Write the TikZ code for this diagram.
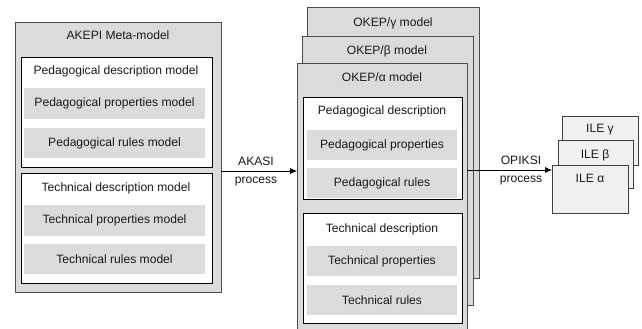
\documentclass[tikz,border=0pt]{standalone}
\usepackage{fontspec}
\setmainfont{Liberation Sans}
\usetikzlibrary{arrows.meta}
\begin{document}
\begin{tikzpicture}[x=1pt,y=-1pt,
  font=\fontsize{12.1}{14}\selectfont,
  every node/.style={text=black!90},
  box/.style={anchor=north west, inner sep=0pt, outer sep=0pt},
  outerbox/.style={box, draw=black!70, fill=gray!28, line width=0.9pt},
  innerbox/.style={box, draw=black, fill=white, line width=0.8pt},
  itembox/.style={box, draw=none, fill=gray!28},
  ilebox/.style={box, draw=black!75, fill=gray!12, line width=0.9pt},
  conn/.style={-{Latex[length=7pt,width=6pt]}, line width=0.7pt, draw=black}]
\useasboundingbox (0,0) rectangle (642,329);

% ---------- AKEPI meta-model ----------
\node[outerbox, minimum width=206pt, minimum height=270pt] (akepi) at (15,22) {};
\node (akepiT) at (118,35) {AKEPI Meta-model};
\node[innerbox, minimum width=191pt, minimum height=110pt] (lped) at (21,57) {};
\node (lpedT) at (116,71) {Pedagogical description model};
\node[itembox, minimum width=181pt, minimum height=31pt] (lpp) at (24,88) {};
\node at (lpp.center) {Pedagogical properties model};
\node[itembox, minimum width=181pt, minimum height=30pt] (lpr) at (24,128) {};
\node at (lpr.center) {Pedagogical rules model};
\node[innerbox, minimum width=191pt, minimum height=110pt] (ltec) at (21,173) {};
\node (ltecT) at (116,188) {Technical description model};
\node[itembox, minimum width=181pt, minimum height=31pt] (ltp) at (24,205) {};
\node at (ltp.center) {Technical properties model};
\node[itembox, minimum width=181pt, minimum height=30pt] (ltr) at (24,244) {};
\node at (ltr.center) {Technical rules model};

% ---------- OKEP models ----------
\node[outerbox, minimum width=172pt, minimum height=271pt] (okg) at (307,7) {};
\node (okgT) at (393,23) {OKEP/γ model};
\node[outerbox, minimum width=171pt, minimum height=269pt] (okb) at (302,36) {};
\node (okbT) at (387,51) {OKEP/β model};
\node[outerbox, minimum width=170pt, minimum height=270pt] (oka) at (297,63) {};
\node (okaT) at (382,77) {OKEP/α model};
\node[innerbox, minimum width=159pt, minimum height=102pt] (rped) at (303,97) {};
\node (rpedT) at (382,111) {Pedagogical description};
\node[itembox, minimum width=150pt, minimum height=30pt] (rpp) at (307,130) {};
\node at (rpp.center) {Pedagogical properties};
\node[itembox, minimum width=150pt, minimum height=30pt] (rpr) at (307,168) {};
\node at (rpr.center) {Pedagogical rules};
\node[innerbox, minimum width=159pt, minimum height=110pt] (rtec) at (303,213) {};
\node (rtecT) at (382,229) {Technical description};
\node[itembox, minimum width=150pt, minimum height=30pt] (rtp) at (307,246) {};
\node at (rtp.center) {Technical properties};
\node[itembox, minimum width=150pt, minimum height=30pt] (rtr) at (307,285) {};
\node at (rtr.center) {Technical rules};

% ---------- ILE ----------
\node[ilebox, minimum width=76pt, minimum height=49pt] (ileg) at (562,116) {};
\node (ilegT) at (600,130) {ILE γ};
\node[ilebox, minimum width=75pt, minimum height=48pt] (ileb) at (558,140) {};
\node (ilebT) at (595,155) {ILE β};
\node[ilebox, minimum width=76pt, minimum height=48pt] (ilea) at (552,165) {};
\node (ileaT) at (590,178) {ILE α};

% ---------- connectors ----------
\coordinate (a1) at (akepi.east |- 0,171);
\draw[conn] (a1) -- (a1 -| oka.west);
\node (akasi) at (256,161) {AKASI};
\node (akasip) at (256,181) {process};

\coordinate (o1) at (oka.east |- 0,170);
\draw[conn] (o1) -- (o1 -| ilea.west);
\node (opiksi) at (521,160) {OPIKSI};
\node (opiksip) at (521,180) {process};
\end{tikzpicture}
\end{document}
